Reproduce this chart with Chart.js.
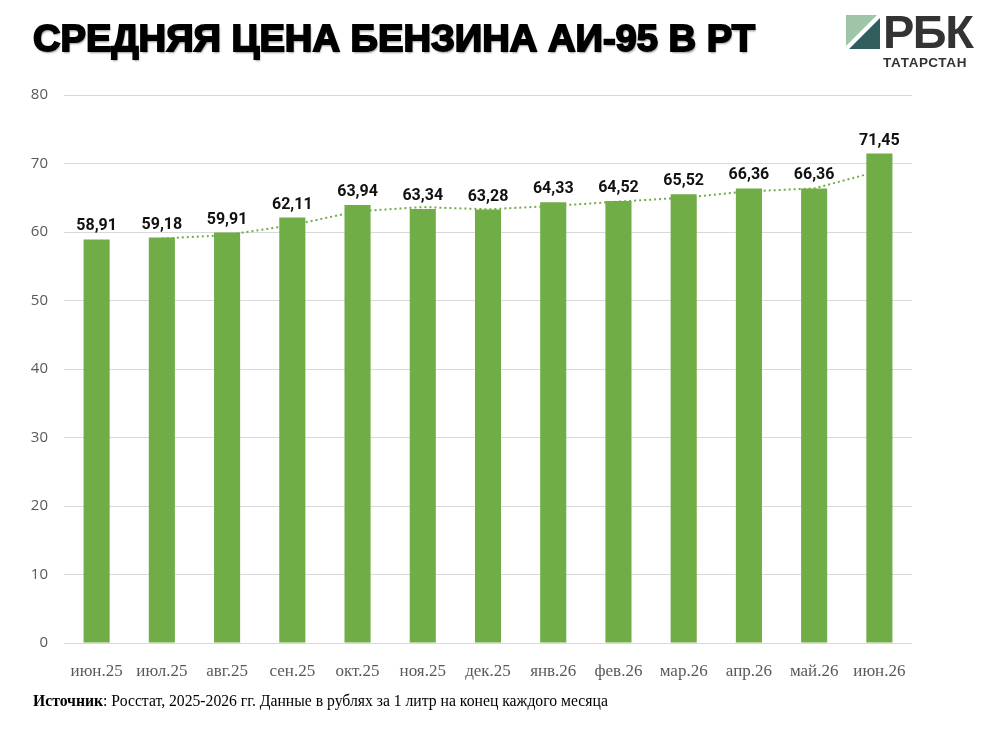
<!DOCTYPE html>
<html lang="ru">
<head>
<meta charset="utf-8">
<script src="https://cdn.jsdelivr.net/npm/chart.js@4.4.1/dist/chart.umd.min.js"></script>
<style>
  html, body { margin: 0; padding: 0; background: #fff; }
  body { width: 1007px; height: 734px; position: relative; overflow: hidden; }
  #chart { position: absolute; left: 0; top: 0; }
  #title {
    position: absolute; left: 33px; top: 16px; margin: 0;
    font-family: "Liberation Sans", Arial, sans-serif;
    font-weight: bold; font-size: 37px; line-height: 46px; color: #000;
    -webkit-text-stroke: 1.8px #000;
    text-shadow: 1px 2px 2px rgba(0,0,0,0.4);
    white-space: nowrap; transform-origin: 0 0;
  }
  #logo { position: absolute; left: 846px; top: 12px; width: 150px; height: 64px; }
  #logo .mark { position: absolute; left: 0; top: 3px; }
  #logo .rbk {
    position: absolute; left: 37px; top: -4px;
    font-family: "Liberation Sans", Arial, sans-serif; font-weight: bold;
    font-size: 47px; line-height: 48px; color: #333; letter-spacing: -1.5px;
  }
  #logo .tat {
    position: absolute; left: 37px; top: 43px;
    font-family: "Liberation Sans", Arial, sans-serif; font-weight: bold;
    font-size: 13.5px; line-height: 16px; color: #333; letter-spacing: 0.6px;
  }
  #source {
    position: absolute; left: 33px; top: 692px;
    font-family: "Liberation Serif", "Times New Roman", serif;
    font-size: 15.7px; line-height: 18px; color: #000; white-space: nowrap;
  }
</style>
</head>
<body>
<canvas id="chart" width="1007" height="734"></canvas>
<h1 id="title">СРЕДНЯЯ ЦЕНА БЕНЗИНА АИ-95 В РТ</h1>
<div id="logo">
  <svg class="mark" width="34" height="34" viewBox="0 0 34 34">
    <polygon points="0,0 31,0 0,31" fill="#9dc5a6"/>
    <polygon points="34,3 34,34 3,34" fill="#2f5e5c"/>
  </svg>
  <div class="rbk">РБК</div>
  <div class="tat">ТАТАРСТАН</div>
</div>
<div id="source"><b>Источник</b>: Росстат, 2025-2026 гг. Данные в рублях за 1 литр на конец каждого месяца</div>
<script>
const categories = ["июн.25","июл.25","авг.25","сен.25","окт.25","ноя.25","дек.25","янв.26","фев.26","мар.26","апр.26","май.26","июн.26"];
const prices = [58.91, 59.18, 59.91, 62.11, 63.94, 63.34, 63.28, 64.33, 64.52, 65.52, 66.36, 66.36, 71.45];
const trendValues = [null, 59.05, 59.55, 61.01, 63.03, 63.64, 63.31, 63.81, 64.43, 65.02, 65.94, 66.36, 68.91];
const yTicks = [0, 10, 20, 30, 40, 50, 60, 70, 80];

const GREEN = "#70AD47";

// fit title width to the reference span
(function () {
  const t = document.getElementById("title");
  const w = t.getBoundingClientRect().width;
  if (w > 0) t.style.transform = "scaleX(" + (722 / w) + ")";
})();

const valueLabels = {
  id: "valueLabels",
  afterDatasetsDraw(chart) {
    const meta = chart.getDatasetMeta(1);
    const ctx = chart.ctx;
    ctx.save();
    ctx.font = "bold 16px Roboto, 'DejaVu Sans', sans-serif";
    ctx.fillStyle = "#111";
    ctx.textAlign = "center";
    ctx.textBaseline = "bottom";
    meta.data.forEach((bar, i) => {
      const txt = prices[i].toFixed(2).replace(".", ",");
      ctx.fillText(txt, bar.x, bar.y - 5);
    });
    ctx.restore();
  }
};

new Chart(document.getElementById("chart"), {
  data: {
    labels: categories,
    datasets: [
      {
        type: "line",
        label: "trend",
        data: trendValues,
        borderColor: GREEN,
        borderWidth: 2,
        borderDash: [2, 3],
        pointRadius: 0,
        tension: 0,
        fill: false,
        order: 0
      },
      {
        type: "bar",
        label: "price",
        data: prices,
        backgroundColor: GREEN,
        borderWidth: 0,
        barPercentage: 0.4,
        categoryPercentage: 1.0,
        order: 1
      }
    ]
  },
  options: {
    responsive: false,
    devicePixelRatio: 1,
    animation: false,
    layout: { padding: { top: 95, right: 95, bottom: 51, left: 0 } },
    plugins: { legend: { display: false }, tooltip: { enabled: false }, title: { display: false } },
    scales: {
      x: {
        afterFit(scale) { scale.height = 40; },
        grid: { display: false },
        border: { display: false },
        ticks: {
          color: "#595959",
          font: { family: "'Liberation Serif', 'Times New Roman', serif", size: 17 },
          padding: 10,
          maxRotation: 0,
          autoSkip: false
        }
      },
      y: {
        min: 0, max: 80,
        afterFit(scale) { scale.width = 64; },
        afterBuildTicks(scale) { scale.ticks = yTicks.map(v => ({ value: v })); },
        grid: { color: "#d9d9d9", lineWidth: 1, drawTicks: false },
        border: { display: false },
        ticks: {
          color: "#595959",
          font: { family: "'Open Sans', Roboto, sans-serif", size: 15 },
          padding: 16
        }
      }
    }
  },
  plugins: [valueLabels]
});
</script>
</body>
</html>
